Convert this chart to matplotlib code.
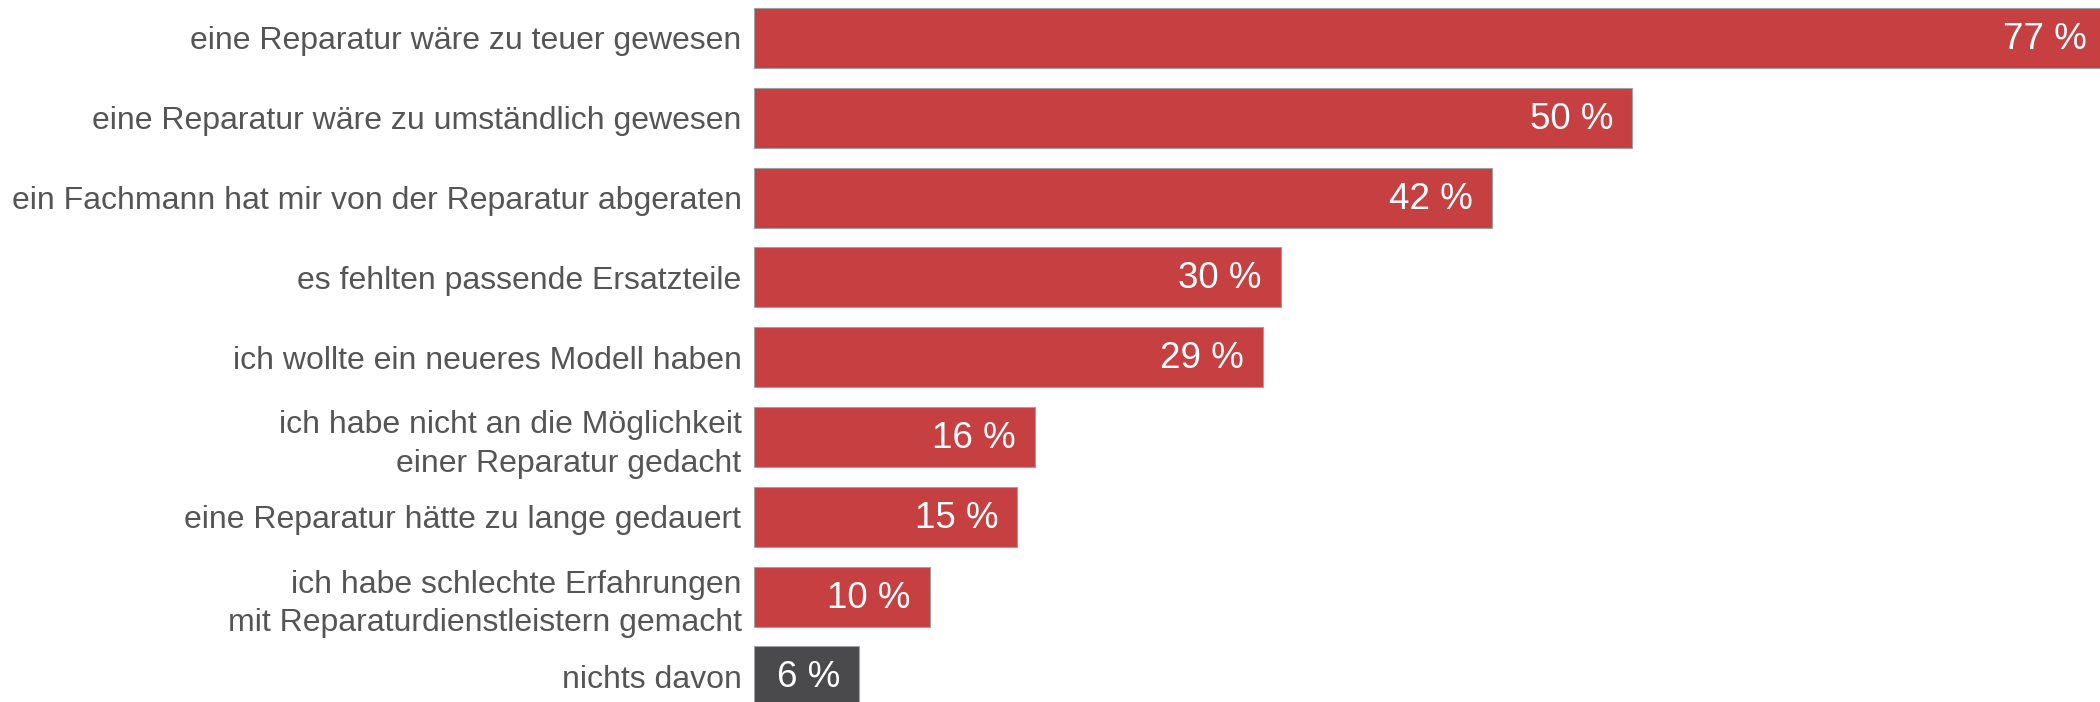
import numpy as np
import matplotlib.pyplot as plt

plt.rcParams['font.family'] = ['Liberation Sans', 'DejaVu Sans']

labels = [
    'eine Reparatur wäre zu teuer gewesen',
    'eine Reparatur wäre zu umständlich gewesen',
    'ein Fachmann hat mir von der Reparatur abgeraten',
    'es fehlten passende Ersatzteile',
    'ich wollte ein neueres Modell haben',
    'ich habe nicht an die Möglichkeit\neiner Reparatur gedacht',
    'eine Reparatur hätte zu lange gedauert',
    'ich habe schlechte Erfahrungen\nmit Reparaturdienstleistern gemacht',
    'nichts davon',
]
values = [77, 50, 42, 30, 29, 16, 15, 10, 6]

RED = '#c63f41'
DARK = '#4a4a4c'
colors = [RED] * 8 + [DARK]

fig = plt.figure(figsize=(21, 7.02), dpi=100)
ax = fig.add_axes([754 / 2100, 0, 1 - 754 / 2100, 1])

y = np.arange(len(values))
ax.barh(y, values, height=0.752, color=colors, edgecolor='#a0a0a0', linewidth=0.8)
ax.set_xlim(0, 1346 / 17.56)
ax.set_ylim((702 - 38) / 79.8, -38 / 79.8)

ax.set_yticks(y)
ax.set_yticklabels(labels, fontsize=23, color='#555555', linespacing=1.36)
ax.tick_params(axis='y', length=0, pad=9)
ax.set_xticks([])
for s in ax.spines.values():
    s.set_visible(False)

for yi, v in zip(y, values):
    ax.text(v - 19 / 17.56, yi + 0.02, f'{v} %', ha='right', va='center',
            color='white', fontsize=26.5)

fig.savefig('out.png', dpi=100)
